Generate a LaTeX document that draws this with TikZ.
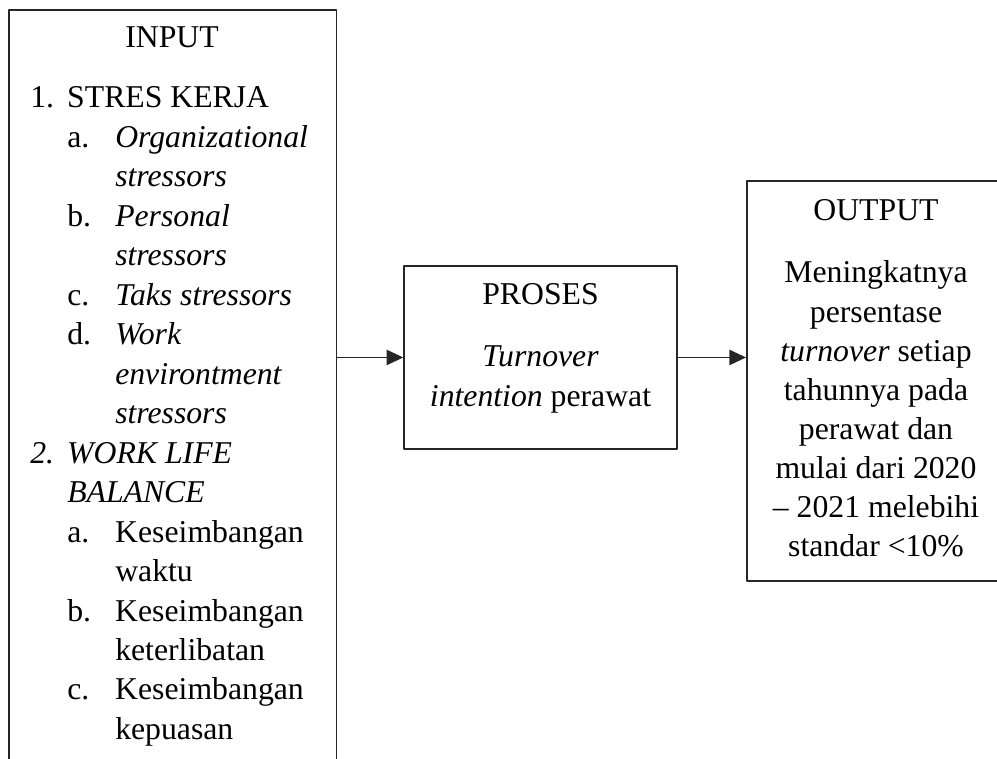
\documentclass[tikz,border=0pt]{standalone}
\usepackage{fontspec}
\setmainfont{Liberation Serif}
\usetikzlibrary{arrows.meta}
\definecolor{frm}{HTML}{262626}

\tikzset{
  box/.style={draw=frm,line width=1.2pt,inner sep=0pt},
  arr/.style={draw=frm,line width=1.2pt,-{Triangle[length=12.5pt,width=11.5pt]}},
  ttl/.style={anchor=base,inner sep=0pt,font=\fontsize{23.8}{29.6}\selectfont},
}

\begin{document}
\begin{tikzpicture}[x=1pt,y=1pt,line cap=round,line join=round]

  \useasboundingbox (0,0) rectangle (747.75,-569.25);
  \clip (0,0) rectangle (747.75,-569.25);

  % boxes (input and output run past the page edge)
  \node[box,anchor=north west,minimum width=245.6pt,minimum height=600pt]
    (input) at (6.2,-6.75) {};
  \node[box,minimum width=204.75pt,minimum height=137.25pt]
    (proses) at (405.4,-268.1) {};
  \node[box,anchor=north west,minimum width=195pt,minimum height=300pt]
    (output) at (559.5,-135) {};

  % INPUT
  \node[ttl] (inttl) at (129,-36) {INPUT};
  \node[ttl,anchor=base west] (inlist) at (22.5,-81)
    {\begin{tabular}[t]{@{}p{27.75pt}@{}p{36pt}@{}l@{}}
      1. & \multicolumn{2}{@{}l@{}}{STRES KERJA}\\
       & a. & \textit{Organizational}\\
       &    & \textit{stressors}\\
       & b. & \textit{Personal}\\
       &    & \textit{stressors}\\
       & c. & \textit{Taks stressors}\\
       & d. & \textit{Work}\\
       &    & \textit{environtment}\\
       &    & \textit{stressors}\\
      \textit{2.} & \multicolumn{2}{@{}l@{}}{\textit{WORK LIFE}}\\
       & \multicolumn{2}{@{}l@{}}{\textit{BALANCE}}\\
       & a. & Keseimbangan\\
       &    & waktu\\
       & b. & Keseimbangan\\
       &    & keterlibatan\\
       & c. & Keseimbangan\\
       &    & kepuasan
    \end{tabular}};

  % PROSES
  \node[ttl] (prttl) at (405.4,-228.75) {PROSES};
  \node[ttl] (prtxt) at (405.4,-275.25)
    {\begin{tabular}[t]{@{}c@{}}
      \textit{Turnover}\\
      \textit{intention} perawat
    \end{tabular}};

  % OUTPUT
  \node[ttl] (outttl) at (657,-165.75) {OUTPUT};
  \node[ttl,font=\fontsize{23.8}{29.3}\selectfont] (outtxt) at (657,-212.25)
    {\begin{tabular}[t]{@{}c@{}}
      Meningkatnya\\
      persentase\\
      \textit{turnover} setiap\\
      tahunnya pada\\
      perawat dan\\
      mulai dari 2020\\
      -- 2021 melebihi\\
      standar <10\%
    \end{tabular}};

  \draw[arr] (input.east |- proses.west) -- (proses.west);
  \draw[arr] (proses.east) -- (proses.east -| output.west);

\end{tikzpicture}
\end{document}
